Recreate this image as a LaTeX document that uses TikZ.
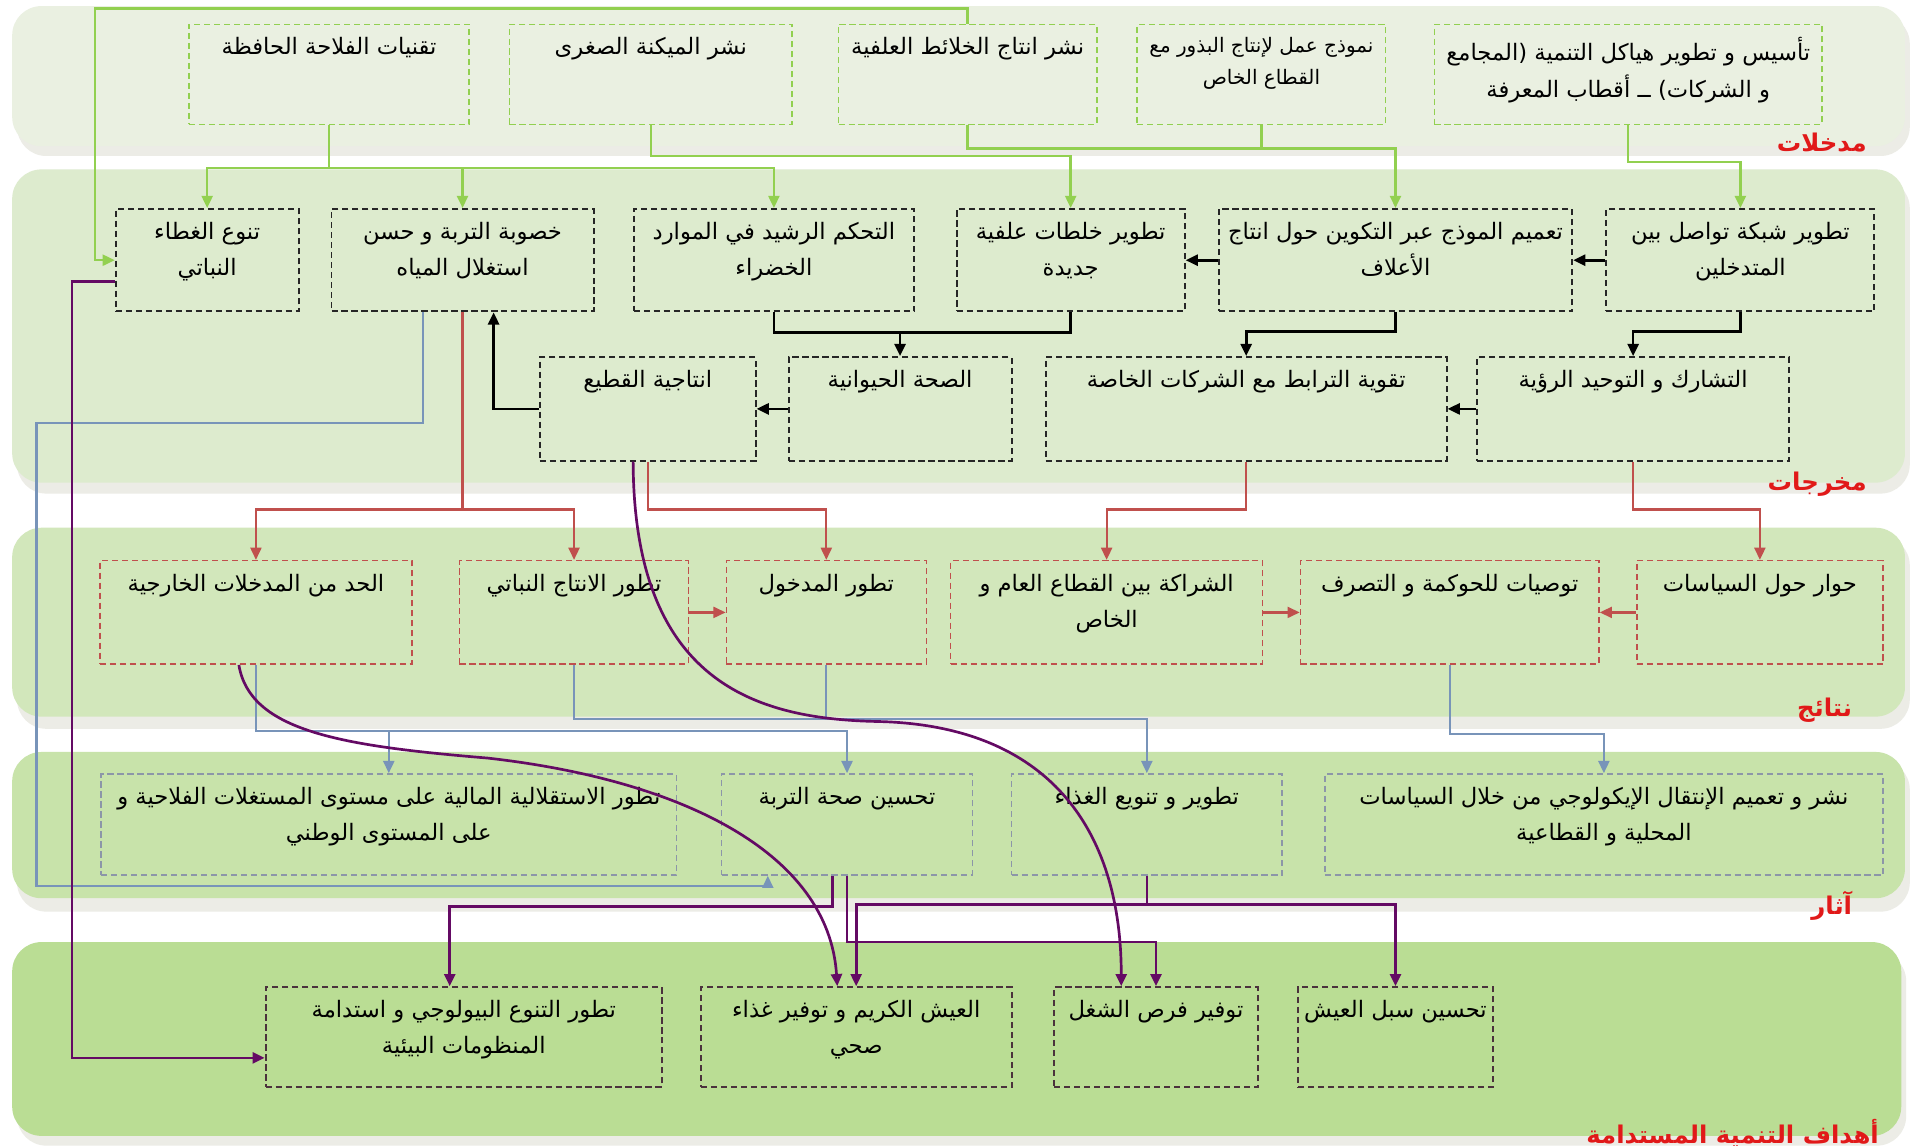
\documentclass[tikz,border=0pt]{standalone}
\usepackage{fontspec}
\usepackage{tikz}
\usetikzlibrary{arrows.meta}
\newfontfamily\arabicfont[Script=Arabic]{DejaVu Sans}
\TeXXeTstate=1
\definecolor{inputgreen}{RGB}{146,208,80}
\definecolor{resultred}{RGB}{192,80,77}
\definecolor{impactgrey}{RGB}{140,150,168}
\definecolor{impactblue}{RGB}{120,148,185}
\definecolor{goaldark}{RGB}{75,50,60}
\definecolor{goalpurple}{RGB}{100,10,100}
\definecolor{labelred}{RGB}{225,25,25}
\definecolor{bandone}{RGB}{234,240,225}
\definecolor{bandtwo}{RGB}{221,235,206}
\definecolor{bandthree}{RGB}{210,231,187}
\definecolor{bandfour}{RGB}{200,227,170}
\definecolor{bandfive}{RGB}{186,221,148}
\definecolor{shadowgrey}{RGB}{236,236,230}

\begin{document}
\begin{tikzpicture}[
    x=0.5pt, y=-0.5pt,
    >={Triangle[length=5pt,width=4.5pt]},
    dbox/.style={draw, dash pattern=on 2.5pt off 1.6pt, inner sep=0pt},
    inbox/.style={dbox, draw=inputgreen, line width=0.6pt, minimum height=41pt},
    outbox/.style={dbox, draw=black!85, line width=0.8pt, minimum height=42pt},
    resbox/.style={dbox, draw=resultred, line width=0.6pt, minimum height=42.5pt},
    impbox/.style={dbox, draw=impactgrey, line width=0.6pt, minimum height=41.5pt},
    goalbox/.style={dbox, draw=goaldark, line width=0.8pt, minimum height=41pt},
    txt/.style={anchor=north, yshift=-3.5pt, inner sep=2pt, align=center, font=\arabicfont\fontsize{9.3}{15}\selectfont},
    bandshadow/.style={fill=shadowgrey, rounded corners=12pt},
    bandlabel/.style={anchor=east, inner sep=0pt, text=labelred, font=\arabicfont\bfseries\fontsize{10}{12}\selectfont},
    inputline/.style={draw=inputgreen, line width=1pt, ->},
    outputline/.style={draw=black, line width=1.1pt, ->},
    resultline/.style={draw=resultred, line width=0.9pt, ->},
    impactline/.style={draw=impactblue, line width=0.9pt, ->},
    goalline/.style={draw=goalpurple, line width=1.1pt, ->}
]
\useasboundingbox (0,0) rectangle (1568,940);
\fill[white] (0,0) rectangle (1568,940);

% Bands
\fill[bandshadow] (14,12) rectangle (1567,128);
\fill[bandone, rounded corners=12pt] (10,5) rectangle (1563,120);
\fill[bandshadow] (14,147) rectangle (1567,405);
\fill[bandtwo, rounded corners=12pt] (10,139) rectangle (1563,396);
\fill[bandshadow] (14,440) rectangle (1567,598);
\fill[bandthree, rounded corners=12pt] (10,433) rectangle (1563,588);
\fill[bandshadow] (14,624) rectangle (1567,748);
\fill[bandfour, rounded corners=12pt] (10,617) rectangle (1563,737);
\fill[bandshadow] (14,781) rectangle (1564,940);
\fill[bandfive, rounded corners=12pt] (10,773) rectangle (1560,932);

% Band labels
\node[bandlabel] (l1) at (1532,117) {\beginR مدخلات\endR};
\node[bandlabel] (l2) at (1532,397) {\beginR مخرجات\endR};
\node[bandlabel] (l3) at (1520,583) {\beginR نتائج\endR};
\node[bandlabel] (l4) at (1520,743) {\beginR آثار\endR};
\node[bandlabel] (l5) at (1542,930) {\beginR أهداف التنمية المستدامة\endR};

% Inputs
\node[inbox, minimum width=115pt, label={[txt,name=i1t]north:{\beginR تقنيات الفلاحة الحافظة\endR}}] (i1) at (270,61) {};
\node[inbox, minimum width=116pt, label={[txt,name=i2t]north:{\beginR نشر الميكنة الصغرى\endR}}] (i2) at (534,61) {};
\node[inbox, minimum width=106pt, label={[txt,name=i3t]north:{\beginR نشر انتاج الخلائط العلفية\endR}}] (i3) at (794,61) {};
\node[inbox, minimum width=102pt, label={[txt,name=i4t,font=\arabicfont\fontsize{8.2}{13}\selectfont]north:{\beginR نموذج عمل لإنتاج البذور مع\endR\\\beginR القطاع الخاص\endR}}] (i4) at (1035,61) {};
\node[inbox, minimum width=159pt, label={[txt,name=i5t]north:{\beginR تأسيس و تطوير هياكل التنمية (المجامع\endR\\\beginR و الشركات) ــ أقطاب المعرفة\endR}}] (i5) at (1336,61) {};

% Outputs
\node[outbox, minimum width=75pt, label={[txt,name=o1t]north:{\beginR تنوع الغطاء\endR\\\beginR النباتي\endR}}] (o1) at (170,213.5) {};
\node[outbox, minimum width=107.5pt, label={[txt,name=o2t]north:{\beginR خصوبة التربة و حسن\endR\\\beginR استغلال المياه\endR}}] (o2) at (379.5,213.5) {};
\node[outbox, minimum width=115pt, label={[txt,name=o3t]north:{\beginR التحكم الرشيد في الموارد\endR\\\beginR الخضراء\endR}}] (o3) at (635,213.5) {};
\node[outbox, minimum width=93.5pt, label={[txt,name=o4t]north:{\beginR تطوير خلطات علفية\endR\\\beginR جديدة\endR}}] (o4) at (878.5,213.5) {};
\node[outbox, minimum width=145pt, label={[txt,name=o5t]north:{\beginR تعميم الموذج عبر التكوين حول انتاج\endR\\\beginR الأعلاف\endR}}] (o5) at (1145,213.5) {};
\node[outbox, minimum width=110pt, label={[txt,name=o6t]north:{\beginR تطوير شبكة تواصل بين\endR\\\beginR المتدخلين\endR}}] (o6) at (1428,213.5) {};
\node[outbox, minimum width=88.5pt, minimum height=42.5pt, label={[txt,name=o7t]north:{\beginR انتاجية القطيع\endR}}] (o7) at (531.5,335.5) {};
\node[outbox, minimum width=91.5pt, minimum height=42.5pt, label={[txt,name=o8t]north:{\beginR الصحة الحيوانية\endR}}] (o8) at (738.5,335.5) {};
\node[outbox, minimum width=164.5pt, minimum height=42.5pt, label={[txt,name=o9t]north:{\beginR تقوية الترابط مع الشركات الخاصة\endR}}] (o9) at (1022.5,335.5) {};
\node[outbox, minimum width=128pt, minimum height=42.5pt, label={[txt,name=o10t]north:{\beginR التشارك و التوحيد الرؤية\endR}}] (o10) at (1340,335.5) {};

% Results
\node[resbox, minimum width=128pt, label={[txt,name=r1t]north:{\beginR الحد من المدخلات الخارجية\endR}}] (r1) at (210,502.5) {};
\node[resbox, minimum width=94pt, label={[txt,name=r2t]north:{\beginR تطور الانتاج النباتي\endR}}] (r2) at (471,502.5) {};
\node[resbox, minimum width=82pt, label={[txt,name=r3t]north:{\beginR تطور المدخول\endR}}] (r3) at (678,502.5) {};
\node[resbox, minimum width=128pt, label={[txt,name=r4t]north:{\beginR الشراكة بين القطاع العام و\endR\\\beginR الخاص\endR}}] (r4) at (908,502.5) {};
\node[resbox, minimum width=122.5pt, label={[txt,name=r5t]north:{\beginR توصيات للحوكمة و التصرف\endR}}] (r5) at (1189.5,502.5) {};
\node[resbox, minimum width=101pt, label={[txt,name=r6t]north:{\beginR حوار حول السياسات\endR}}] (r6) at (1444,502.5) {};

% Impacts
\node[impbox, minimum width=236pt, label={[txt,name=m1t]north:{\beginR تطور الاستقلالية المالية على مستوى المستغلات الفلاحية و\endR\\\beginR على المستوى الوطني\endR}}] (m1) at (319,676.5) {};
\node[impbox, minimum width=103pt, label={[txt,name=m2t]north:{\beginR تحسين صحة التربة\endR}}] (m2) at (695,676.5) {};
\node[impbox, minimum width=111pt, label={[txt,name=m3t]north:{\beginR تطوير و تنويع الغذاء\endR}}] (m3) at (941,676.5) {};
\node[impbox, minimum width=229pt, label={[txt,name=m4t]north:{\beginR نشر و تعميم الإنتقال الإيكولوجي من خلال السياسات\endR\\\beginR المحلية و القطاعية\endR}}] (m4) at (1316,676.5) {};

% Goals
\node[goalbox, minimum width=162.5pt, label={[txt,name=g1t]north:{\beginR تطور التنوع البيولوجي و استدامة\endR\\\beginR المنظومات البيئية\endR}}] (g1) at (380.5,851) {};
\node[goalbox, minimum width=127.5pt, label={[txt,name=g2t]north:{\beginR العيش الكريم و توفير غذاء\endR\\\beginR صحي\endR}}] (g2) at (702.5,851) {};
\node[goalbox, minimum width=83.5pt, label={[txt,name=g3t]north:{\beginR توفير فرص الشغل\endR}}] (g3) at (948.5,851) {};
\node[goalbox, minimum width=80pt, label={[txt,name=g4t]north:{\beginR تحسين سبل العيش\endR}}] (g4) at (1145,851) {};

% Inputs -> outputs
\coordinate (gj) at (i1.south |- 0,138);
\draw[inputline] (i1.south) -- (gj) -| (o1.north);
\draw[inputline] (gj) -| (o2.north);
\draw[inputline] (gj) -| (o3.north);
\draw[inputline] (i2.south) |- (o4.north |- 0,128) -- (o4.north);
\draw[inputline] (i3.south) |- (o5.north |- 0,122) -- (o5.north);
\draw[inputline, -] (i4.south) -- (i4.south |- 0,122);
\draw[inputline] (i5.south) |- (o6.north |- 0,133) -- (o6.north);
\draw[inputline] (i3.north) |- (78,7) |- (o1.west);

% Outputs
\draw[outputline] (o6.west) -- (o5.east);
\draw[outputline] (o5.west) -- (o4.east);
\draw[outputline] (o3.south) |- (o8.north |- 0,273) -- (o8.north);
\draw[outputline, -] (o4.south) |- (o8.north |- 0,273);
\draw[outputline] (o5.south) |- (o9.north |- 0,272) -- (o9.north);
\draw[outputline] (o6.south) |- (o10.north |- 0,272) -- (o10.north);
\draw[outputline] (o10.west) -- (o9.east);
\draw[outputline] (o8.west) -- (o7.east);
\draw[outputline] (o7.west) -| (o2.south -| 405,0);

% Outputs -> results
\coordinate (rj) at (o2.south |- 0,418);
\draw[resultline] (o2.south) -- (rj) -| (r1.north);
\draw[resultline] (rj) -| (r2.north);
\draw[resultline] (o7.south) |- (r3.north |- 0,418) -- (r3.north);
\draw[resultline] (o9.south) |- (r4.north |- 0,418) -- (r4.north);
\draw[resultline] (o10.south) |- (r6.north |- 0,418) -- (r6.north);
\draw[resultline] (r2.east) -- (r3.west);
\draw[resultline] (r4.east) -- (r5.west);
\draw[resultline] (r6.west) -- (r5.east);

% Results -> impacts
\coordinate (mj) at (r1.south |- 0,600);
\draw[impactline] (r1.south) -- (mj) -| (m2.north);
\draw[impactline] (mj) -| (m1.north);
\draw[impactline] (r2.south) |- (m3.north |- 0,590) -- (m3.north);
\draw[impactline, -] (r3.south) -- (r3.south |- 0,590);
\draw[impactline] (r5.south) |- (m4.north |- 0,602) -- (m4.north);
\draw[impactline] ([xshift=-16.25pt]o2.south) |- (30,347) -- (30,727) -| (m2.south -| 630,0);

% Towards goals
\draw[goalline] ([yshift=-8.75pt]o1.west) -| (59,868) -- ([yshift=-8.5pt]g1.west);
\draw[goalline] ([xshift=-6pt]m2.south) |- (369,744) -- (369,0 |- g1.north);
\draw[goalline] (m2.south) |- (g3.north |- 0,773) -- (g3.north);
\coordinate (pj) at (m3.south |- 0,742);
\draw[goalline] (m3.south) -- (pj) -| (g2.north);
\draw[goalline] (pj) -| (g4.north);
\draw[goalline] ([xshift=-7pt]r1.south) .. controls (205,600) and (280,612) .. (400,622) .. controls (560,640) and (680,700) .. (687,0 |- g2.north);
\draw[goalline] ([xshift=-6pt]o7.south) .. controls (520,560) and (620,590) .. (720,592) .. controls (860,595) and (920,680) .. (920,0 |- g3.north);

\end{tikzpicture}
\end{document}
